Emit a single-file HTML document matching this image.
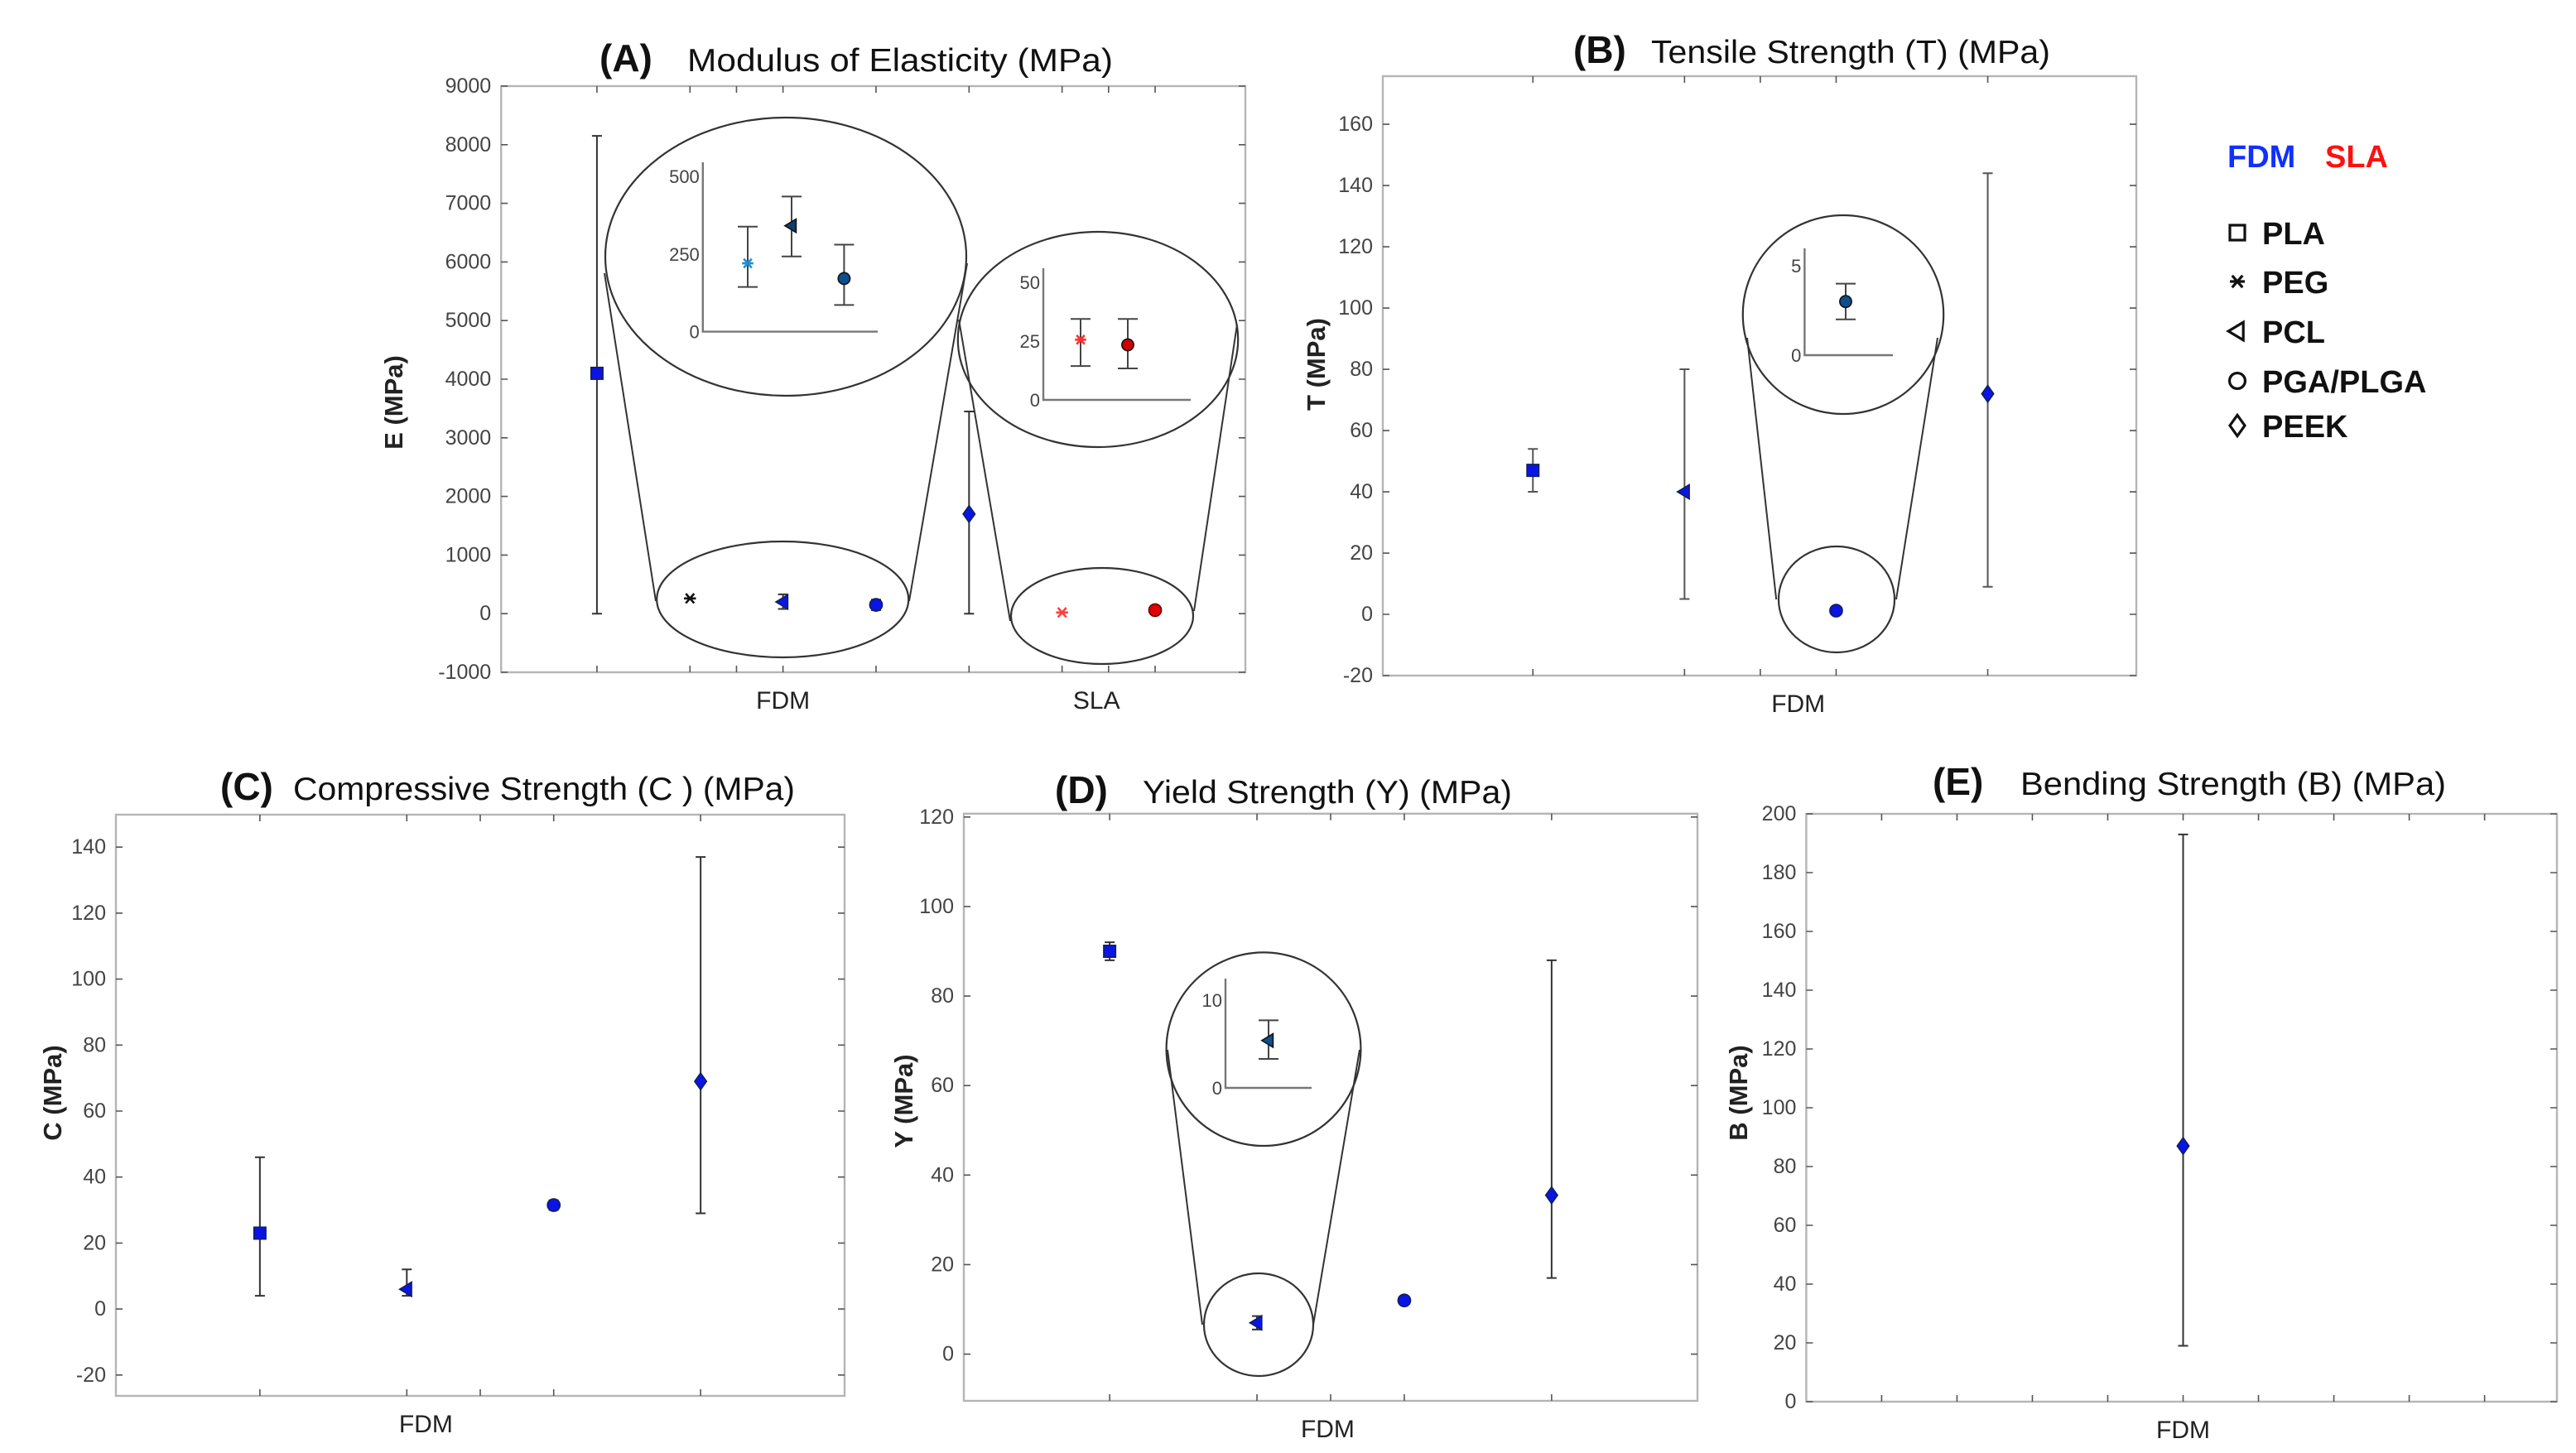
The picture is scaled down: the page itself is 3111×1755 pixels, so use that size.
<!DOCTYPE html>
<html><head><meta charset="utf-8">
<style>
html,body{margin:0;padding:0;background:#fff;}
svg{display:block;font-family:"Liberation Sans",sans-serif;}
</style></head>
<body>
<svg id="fig" width="3111" height="1755" viewBox="0 0 1555.5 877.5" xmlns="http://www.w3.org/2000/svg">
<g id="root"></g>
</svg>
<script>
// ---------- DATA ----------
// Panel A: Modulus of Elasticity
const A_cats = ['PLA','PEG','PCL','PGA/PLGA','PEEK','PEG (SLA)','PGA/PLGA (SLA)'];
const A_shapes = ['square','star','tri','circle','diamond','star','circle'];
const A_vals = [4100, 260, 200, 150, 1700, 20, 60];
const A_lo = [0, NaN, 80, 60, 0, NaN, NaN];
const A_hi = [8150, NaN, 330, 240, 3450, NaN, NaN];
const A_yticks = [-1000,0,1000,2000,3000,4000,5000,6000,7000,8000,9000];
// inset A FDM
const AI1_vals = [220, 341, 171];
const AI1_lo = [144, 242, 86];
const AI1_hi = [338, 435, 280];
const AI1_ticks = [0, 250, 500];
// inset A SLA
const AI2_vals = [25.6, 23.4];
const AI2_lo = [14.4, 13.4];
const AI2_hi = [34.4, 34.4];
const AI2_ticks = [0, 25, 50];

// Panel B: Tensile
const B_cats = ['PLA','PCL','PGA/PLGA','PEEK'];
const B_shapes = ['square','tri','circle','diamond'];
const B_vals = [47, 40, 1.2, 72];
const B_lo = [40, 5, NaN, 9];
const B_hi = [54, 80, NaN, 144];
const B_yticks = [-20,0,20,40,60,80,100,120,140,160];
const BI_vals = [3.0];
const BI_lo = [2.0];
const BI_hi = [4.0];
const BI_ticks = [0, 5];

// Panel C: Compressive
const C_cats = ['PLA','PCL','PGA/PLGA','PEEK'];
const C_shapes = ['square','tri','circle','diamond'];
const C_vals = [23, 6, 31.5, 69];
const C_lo = [4, 4, 30, 29];
const C_hi = [46, 12, 33, 137];
const C_yticks = [-20,0,20,40,60,80,100,120,140];

// Panel D: Yield
const D_cats = ['PLA','PCL','PGA/PLGA','PEEK'];
const D_shapes = ['square','tri','circle','diamond'];
const D_vals = [90, 7, 12, 35.5];
const D_lo = [88, 5.5, NaN, 17];
const D_hi = [92, 8.5, NaN, 88];
const D_yticks = [0,20,40,60,80,100,120];
const DI_vals = [5.4];
const DI_lo = [3.3];
const DI_hi = [7.7];
const DI_ticks = [0, 10];

// Panel E: Bending
const E_cats = ['PEEK'];
const E_shapes = ['diamond'];
const E_vals = [87];
const E_lo = [19];
const E_hi = [193];
const E_yticks = [0,20,40,60,80,100,120,140,160,180,200];

// ---------- HELPERS ----------
const NS = 'http://www.w3.org/2000/svg';
const root = document.getElementById('root');
function mk(tag, attrs, parent, text){
  const e = document.createElementNS(NS, tag);
  for (const k in attrs) e.setAttribute(k, attrs[k]);
  if (text !== undefined) e.textContent = text;
  (parent || root).appendChild(e);
  return e;
}
function lin(d0,d1,r0,r1){ return v => r0 + (v-d0)/(d1-d0)*(r1-r0); }

function marker(g, shape, x, y, s, fill, stroke){
  let e;
  if (shape==='square'){
    e = mk('rect',{x:x-s,y:y-s,width:2*s,height:2*s,fill:fill,stroke:stroke,'stroke-width':0.8},g);
  } else if (shape==='circle'){
    e = mk('circle',{cx:x,cy:y,r:s*1.05,fill:fill,stroke:stroke,'stroke-width':0.8},g);
  } else if (shape==='diamond'){
    e = mk('polygon',{points:`${x},${y-s*1.4} ${x+s},${y} ${x},${y+s*1.4} ${x-s},${y}`,fill:fill,stroke:stroke,'stroke-width':0.8},g);
  } else if (shape==='tri'){
    e = mk('polygon',{points:`${x-s*1.2},${y} ${x+s*0.8},${y-s*1.2} ${x+s*0.8},${y+s*1.2}`,fill:fill,stroke:stroke,'stroke-width':0.8},g);
  } else {
    e = mk('path',{d:`M${x-s},${y}H${x+s}M${x-s*0.7},${y-s*0.8}L${x+s*0.7},${y+s*0.8}M${x-s*0.7},${y+s*0.8}L${x+s*0.7},${y-s*0.8}`,stroke:fill,'stroke-width':1.3,fill:'none'},g);
  }
  return e;
}
function errbar(g, x, ylo, yhi, col, w){
  const p = mk('path',{d:`M${x},${ylo}V${yhi}M${x-w},${ylo}H${x+w}M${x-w},${yhi}H${x+w}`,stroke:col,'stroke-width':1,fill:'none'},g);
  
  
}

function panel(cfg){
  const g = mk('g',{});
  
  
  const X = lin(cfg.xd[0],cfg.xd[1],cfg.box[0],cfg.box[2]);
  const Y = lin(cfg.yd[0],cfg.yd[1],cfg.box[3],cfg.box[1]);
  const [x0,y0,x1,y1] = cfg.box;
  const frame = mk('rect',{x:x0,y:y0,width:x1-x0,height:y1-y0,fill:'none',stroke:'#b5b5b5','stroke-width':1.2},g);
  
  
  cfg.yticks.forEach(v=>{
    const y = Y(v);
    mk('path',{d:`M${x0},${y}h4M${x1},${y}h-4`,stroke:'#555','stroke-width':0.8},g);
    const t = mk('text',{x:x0-6,y:y+4,'text-anchor':'end','font-size':12.5,fill:'#444'},g,String(v));
    
    
  });
  cfg.xticks.forEach(v=>{
    const x = X(v);
    mk('path',{d:`M${x},${y1}v-4M${x},${y0}v4`,stroke:'#555','stroke-width':0.8},g);
  });
  cfg.xlabels.forEach(([txt,xv])=>{
    const t = mk('text',{x:X(xv),y:y1+22,'text-anchor':'middle','font-size':15,fill:'#222'},g,txt);
    
    
  });
  const yt = mk('text',{x:0,y:0,'text-anchor':'middle','font-size':15.5,'font-weight':'bold',fill:'#222',
    transform:`translate(${cfg.ytitle[1]},${cfg.ytitle[2]}) rotate(-90)`},g,cfg.ytitle[0]);
  
  
  const tl = mk('text',{x:cfg.title[1],y:cfg.title[3],'font-size':23,'font-weight':'bold',fill:'#111'},g,cfg.title[0]);
  
  
  const tt = mk('text',{x:cfg.title[2],y:cfg.title[3],'font-size':19.5,fill:'#111',textLength:cfg.title[5],lengthAdjust:'spacingAndGlyphs'},g,cfg.title[4]);
  
  
  // zoom ellipses
  (cfg.ellipses||[]).forEach(e=>{
    const el = mk('ellipse',{cx:e[0],cy:e[1],rx:e[2],ry:e[3],fill:'none',stroke:'#333','stroke-width':1.1},g);
    
    
  });
  (cfg.lines||[]).forEach(l=>{
    const el = mk('line',{x1:l[0],y1:l[1],x2:l[2],y2:l[3],stroke:'#333','stroke-width':1},g);
    
    
  });
  // data
  cfg.vals.forEach((v,i)=>{
    const x = X(cfg.xs[i]);
    if (!isNaN(cfg.lo[i])) errbar(g, x, Y(cfg.lo[i]), Y(cfg.hi[i]), cfg.ecol||'#333', 3);
    const m = marker(g, cfg.shapes[i], x, Y(v), 3.6, cfg.fills[i], cfg.strokes[i]);
    
    
  });
  // insets
  (cfg.insets||[]).forEach(ins=>{
    const ig = mk('g',{},g);
    
    
    const IY = lin(ins.yd[0],ins.yd[1],ins.y0,ins.y1);
    mk('path',{d:`M${ins.ax},${ins.ytop}V${ins.y0}H${ins.axr}`,stroke:'#777','stroke-width':1.2,fill:'none'},ig);
    ins.ticks.forEach(v=>{
      const t = mk('text',{x:ins.ax-2,y:IY(v)+4,'text-anchor':'end','font-size':11,fill:'#444'},ig,String(v));
      
      
    });
    ins.vals.forEach((v,i)=>{
      const x = ins.xs[i];
      errbar(ig, x, IY(ins.lo[i]), IY(ins.hi[i]), '#444', 6);
      const m = marker(ig, ins.shapes[i], x, IY(v), 3.4, ins.fills[i], '#111');
      
      
    });
  });
}

const BLUE='#0a14e6', DK='#10205a';
// Panel A
panel({name:'panel-a-modulus', box:[302.6,52,752,406], xd:[-1.03,6.97], yd:[-1000,9000],
  yticks:A_yticks, xticks:[0,1,1.5,2,3,4,5,5.5,6], xlabels:[['FDM',2],['SLA',5.37]],
  ytitle:['E (MPa)',243,243], title:['(A)',362,415,43,'Modulus of Elasticity (MPa)',257],
  cats:A_cats, shapes:A_shapes, vals:A_vals, lo:A_lo, hi:A_hi, xs:[0,1,2,3,4,5,6],
  fills:[BLUE,'#111',BLUE,BLUE,BLUE,'#ff4040','#e00000'], strokes:[DK,'#111',DK,DK,DK,'#ff4040','#600'],
  ellipses:[[474.5,155,109,84],[472.6,362,76,35],[663,205,84.6,65],[665.5,372,55,29]],
  lines:[[365,165,396,363],[584,159,549,363],[579,193,610,375],[747,196,721,369]],
  insets:[
    {ax:424.4,axr:530,ytop:98,y0:200.3,y1:106.5,yd:[0,500],ticks:AI1_ticks,vals:AI1_vals,lo:AI1_lo,hi:AI1_hi,
     xs:[451.5,478,509.7],shapes:['star','tri','circle'],fills:['#1e90d0','#0d3f6e','#0d4f8e']},
    {ax:630,axr:719,ytop:162,y0:241.5,y1:170.5,yd:[0,50],ticks:AI2_ticks,vals:AI2_vals,lo:AI2_lo,hi:AI2_hi,
     xs:[652.5,681],shapes:['star','circle'],fills:['#ff3030','#d00000']}
  ]});
// Panel B
panel({name:'panel-b-tensile', box:[835,46,1290,408], xd:[-0.99,3.98], yd:[-20,160*1+ (180*( (74.4-46)/325.6))],
  yticks:B_yticks, xticks:[0,1,1.5,2,3], xlabels:[['FDM',1.75]],
  ytitle:['T (MPa)',800,220], title:['(B)',950,997,38,'Tensile Strength (T) (MPa)',241],
  cats:B_cats, shapes:B_shapes, vals:B_vals, lo:B_lo, hi:B_hi, xs:[0,1,2,3],
  fills:[BLUE,BLUE,BLUE,BLUE], strokes:[DK,DK,DK,DK], ecol:'#555',
  ellipses:[[1113,190,60.6,60],[1109,362,35,32]],
  lines:[[1055,204,1072.6,362],[1170,204,1145,362]],
  insets:[{ax:1089.7,axr:1143,ytop:150,y0:214.5,y1:160.5,yd:[0,5],ticks:BI_ticks,vals:BI_vals,lo:BI_lo,hi:BI_hi,
     xs:[1114.5],shapes:['circle'],fills:['#0d4f8e']}]
});
// Panel C
panel({name:'panel-c-compressive', box:[70,492,510,843], xd:[-0.98,3.98], yd:[-20-(843-830.4)/318.8*160, 140+(511.6-492)/318.8*160],
  yticks:C_yticks, xticks:[0,1,1.5,2,3], xlabels:[['FDM',1.13]],
  ytitle:['C (MPa)',37,660], title:['(C)',133,177,483,'Compressive Strength (C ) (MPa)',303],
  cats:C_cats, shapes:C_shapes, vals:C_vals, lo:C_lo, hi:C_hi, xs:[0,1,2,3],
  fills:[BLUE,BLUE,BLUE,BLUE], strokes:[DK,DK,DK,DK]});
// Panel D
panel({name:'panel-d-yield', box:[582,493.4-2,1025,846], xd:[-0.99,3.99], yd:[-(846-817.8)/324.4*120, 120+2/324.4*120],
  yticks:D_yticks, xticks:[0,1,1.5,2,3], xlabels:[['FDM',1.48]],
  ytitle:['Y (MPa)',551,665], title:['(D)',637,690,485,'Yield Strength (Y) (MPa)',223],
  cats:D_cats, shapes:D_shapes, vals:D_vals, lo:D_lo, hi:D_hi, xs:[0,1,2,3],
  fills:[BLUE,BLUE,BLUE,BLUE], strokes:[DK,DK,DK,DK],
  ellipses:[[763,633.6,58.7,58.4],[760,800,33,31]],
  lines:[[705,634,726,800],[821,634,793,800]],
  insets:[{ax:740,axr:792,ytop:591,y0:657,y1:604,yd:[0,10],ticks:DI_ticks,vals:DI_vals,lo:DI_lo,hi:DI_hi,
     xs:[766],shapes:['tri'],fills:['#0d4f8e']}]
});
// Panel E
panel({name:'panel-e-bending', box:[1090.7,491.5,1544,846.5], xd:[-5,4.96], yd:[0,200],
  yticks:E_yticks, xticks:[-4,-3,-2,-1,0,1,2,3,4], xlabels:[['FDM',0]],
  ytitle:['B (MPa)',1055,660], title:['(E)',1167,1220,480,'Bending Strength (B) (MPa)',257],
  cats:E_cats, shapes:E_shapes, vals:E_vals, lo:E_lo, hi:E_hi, xs:[0],
  fills:[BLUE], strokes:[DK]});

// Legend
const leg = mk('g',{});


const lf = mk('text',{x:1345,y:101,'font-size':19,'font-weight':'bold',fill:'#1030ff'},leg,'FDM');


const ls = mk('text',{x:1404,y:101,'font-size':19,'font-weight':'bold',fill:'#ff1010'},leg,'SLA');


const legNames = ['PLA','PEG','PCL','PGA/PLGA','PEEK'];
const legShapes = ['square','star','tri','circle','diamond'];
const legY = [147.5,177,207,237,264];
legNames.forEach((n,i)=>{
  const m = marker(leg, legShapes[i], 1351, legY[i]-7, 4.5, legShapes[i]==='star'?'#111':'none', '#111');
  m.setAttribute('stroke-width','1.6');
  
  
  const t = mk('text',{x:1366,y:legY[i],'font-size':19,'font-weight':'bold',fill:'#111'},leg,n);
  
  
});
</script>
</body></html>
